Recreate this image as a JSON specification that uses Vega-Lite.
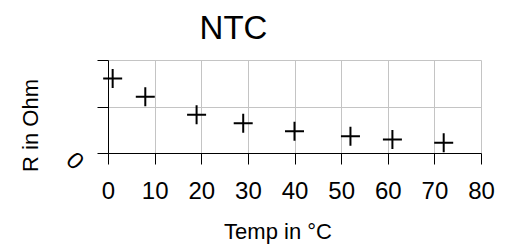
{
  "$schema": "https://vega.github.io/schema/vega-lite/v6.json",
  "width": 373,
  "height": 93,
  "autosize": {"type": "none"},
  "padding": {"left": 108, "top": 60, "right": 24, "bottom": 93},
  "background": "white",
  "title": {
    "text": "NTC",
    "font": "Liberation Sans",
    "fontSize": 33,
    "fontWeight": "normal",
    "color": "black",
    "frame": "group",
    "anchor": "middle",
    "baseline": "alphabetic",
    "offset": 24,
    "dx": -61,
    "dy": 36
  },
  "config": {
    "view": {"stroke": null},
    "font": "Liberation Sans"
  },
  "data": {
    "values": [
      {"temp": 1, "r": 16000},
      {"temp": 8, "r": 12100},
      {"temp": 19, "r": 8200},
      {"temp": 29, "r": 6400},
      {"temp": 40, "r": 4700},
      {"temp": 52, "r": 3600},
      {"temp": 61, "r": 2900},
      {"temp": 72, "r": 2200}
    ]
  },
  "mark": {
    "type": "point",
    "shape": "M-1,0L1,0M0,-1L0,1",
    "size": 361,
    "filled": false,
    "stroke": "black",
    "strokeWidth": 2,
    "opacity": 1
  },
  "encoding": {
    "x": {
      "field": "temp",
      "type": "quantitative",
      "scale": {"domain": [0, 80], "nice": false, "zero": false},
      "axis": {
        "title": "Temp in °C",
        "values": [0, 10, 20, 30, 40, 50, 60, 70, 80],
        "grid": true,
        "gridColor": "#c4c4c4",
        "gridWidth": 1,
        "gridOpacity": 1,
        "domainColor": "black",
        "domainWidth": 1,
        "tickColor": "black",
        "tickSize": 11,
        "tickWidth": 1,
        "labelFont": "Liberation Sans",
        "labelFontSize": 24,
        "labelColor": "black",
        "labelPadding": 15,
        "labelFlush": false,
        "labelOverlap": false,
        "titleFont": "Liberation Sans",
        "titleFontSize": 22,
        "titleFontWeight": "normal",
        "titleColor": "black",
        "titleX": 169.5,
        "titleY": 85.3,
        "titleAlign": "center",
        "titleBaseline": "alphabetic"
      }
    },
    "y": {
      "field": "r",
      "type": "quantitative",
      "scale": {"domain": [0, 20000], "nice": false},
      "axis": {
        "title": "R in Ohm",
        "values": [0, 10000, 20000],
        "labelExpr": "datum.value == 0 ? '0' : ''",
        "grid": true,
        "gridColor": "#c4c4c4",
        "gridWidth": 1,
        "gridOpacity": 1,
        "domainColor": "black",
        "domainWidth": 1,
        "tickColor": "black",
        "tickSize": 11,
        "tickWidth": 1,
        "labelFont": "Liberation Sans",
        "labelFontSize": 24,
        "labelColor": "black",
        "labelAngle": 45,
        "labelAlign": "center",
        "labelBaseline": "middle",
        "labelPadding": 23,
        "labelOffset": 8,
        "labelFlush": false,
        "labelOverlap": false,
        "titleFont": "Liberation Sans",
        "titleFontSize": 22,
        "titleFontWeight": "normal",
        "titleColor": "black",
        "titleAngle": -90,
        "titleX": -71,
        "titleY": 65,
        "titleAlign": "center",
        "titleBaseline": "alphabetic"
      }
    }
  }
}
